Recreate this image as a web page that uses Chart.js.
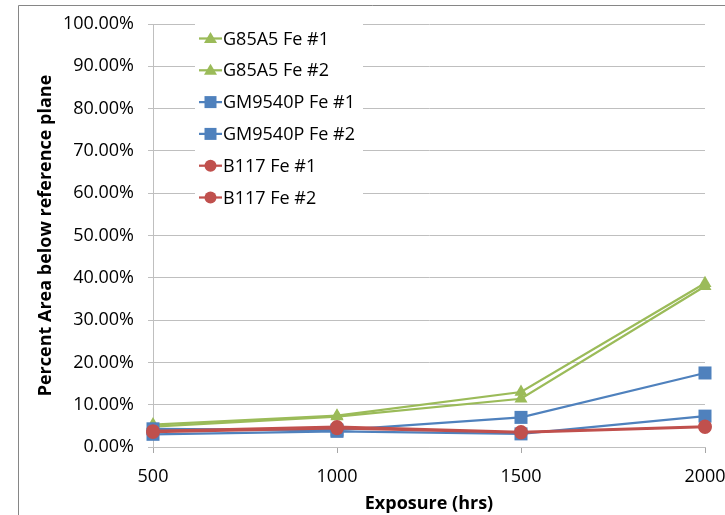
<!DOCTYPE html>
<html>
<head>
<meta charset="utf-8">
<script src="https://cdn.jsdelivr.net/npm/chart.js@4.4.1/dist/chart.umd.min.js"></script>
<style>
    body { margin: 0; background: #fff; }
    #wrap { width: 725px; height: 515px; }
</style>
</head>
<body>
<div id="wrap"><canvas id="areaChart" width="725" height="515"></canvas></div>
<script>
// Exposure times (hrs) and percent area below the reference plane
const exposureHrs = [500, 1000, 1500, 2000];

const g85a5Fe1 = [5.3, 7.4, 13.0, 38.7];
const g85a5Fe2 = [4.8, 7.2, 11.4, 38.0];
const gm9540pFe1 = [4.3, 4.0, 7.0, 17.5];
const gm9540pFe2 = [3.0, 3.7, 3.1, 7.3];
const b117Fe1 = [3.8, 4.8, 3.6, 4.9];
const b117Fe2 = [3.5, 4.4, 3.4, 4.7];

const xTicks = [500, 1000, 1500, 2000];
const yTicks = [0, 10, 20, 30, 40, 50, 60, 70, 80, 90, 100];

const GREEN = '#9bbb59';
const BLUE = '#4f81bd';
const RED = '#c0504d';
const FONT = '"Open Sans", "Liberation Sans", sans-serif';

function toPoints(values) {
    return values.map((v, i) => ({x: exposureHrs[i], y: v}));
}

function series(label, values, color, style, radius, order) {
    return {
        label: label,
        data: toPoints(values),
        borderColor: color,
        backgroundColor: color,
        borderWidth: 2.25,
        pointStyle: style,
        pointRadius: radius,
        pointHoverRadius: radius,
        pointBorderWidth: 0,
        pointBackgroundColor: color,
        tension: 0,
        clip: false,
        order: order
    };
}

// legend box sits inside the plot, over the upper gridlines
const insideLegend = {
    id: 'insideLegend',
    beforeDatasetsDraw(chart) {
        const ctx = chart.ctx;
        ctx.save();
        ctx.fillStyle = '#fff';
        ctx.fillRect(195, 19, 168, 204);
        chart.data.datasets.forEach((ds, i) => {
            const y = 38.5 + i * 31.8;
            ctx.strokeStyle = ds.borderColor;
            ctx.lineWidth = 2.25;
            ctx.beginPath();
            ctx.moveTo(199, y);
            ctx.lineTo(222, y);
            ctx.stroke();
            ctx.fillStyle = ds.borderColor;
            ctx.beginPath();
            if (ds.pointStyle === 'triangle') {
                ctx.moveTo(210.5, y - 6.5);
                ctx.lineTo(217, y + 4.5);
                ctx.lineTo(204, y + 4.5);
                ctx.closePath();
            } else if (ds.pointStyle === 'rect') {
                ctx.rect(204.5, y - 6, 12, 12);
            } else {
                ctx.arc(210.5, y, 6, 0, Math.PI * 2);
            }
            ctx.fill();
            ctx.fillStyle = '#000';
            ctx.font = '18px ' + FONT;
            ctx.textBaseline = 'middle';
            ctx.textAlign = 'left';
            ctx.fillText(ds.label, 223, y + 1);
        });
        ctx.restore();
    },
    afterDraw(chart) {
        // outer chart border
        const ctx = chart.ctx;
        ctx.save();
        ctx.strokeStyle = '#868686';
        ctx.lineWidth = 1;
        ctx.beginPath();
        ctx.moveTo(18.5, 520);
        ctx.lineTo(18.5, 5.5);
        ctx.lineTo(730, 5.5);
        ctx.stroke();
        ctx.restore();
    }
};

new Chart(document.getElementById('areaChart').getContext('2d'), {
    type: 'line',
    data: {
        datasets: [
            series('G85A5 Fe #1', g85a5Fe1, GREEN, 'triangle', 7.5, 6),
            series('G85A5 Fe #2', g85a5Fe2, GREEN, 'triangle', 7.5, 5),
            series('GM9540P Fe #1', gm9540pFe1, BLUE, 'rect', 9.2, 4),
            series('GM9540P Fe #2', gm9540pFe2, BLUE, 'rect', 9.2, 3),
            series('B117 Fe #1', b117Fe1, RED, 'circle', 6.8, 2),
            series('B117 Fe #2', b117Fe2, RED, 'circle', 6.8, 1)
        ]
    },
    options: {
        responsive: false,
        animation: false,
        layout: {padding: {top: 24, right: 20, bottom: 0, left: 0}},
        plugins: {
            legend: {display: false},
            tooltip: {enabled: false}
        },
        scales: {
            x: {
                type: 'linear',
                min: 500,
                max: 2000,
                afterFit: s => {
                    s.height = 68;
                    s.paddingLeft = 0;
                    s.paddingRight = 0;
                },
                afterBuildTicks: s => { s.ticks = xTicks.map(v => ({value: v})); },
                ticks: {
                    color: '#000',
                    padding: 13,
                    font: {family: FONT, size: 18},
                    callback: v => String(v)
                },
                grid: {
                    drawOnChartArea: false,
                    drawTicks: true,
                    tickLength: 6,
                    color: '#a6a6a6'
                },
                border: {display: true, color: '#bfbfbf', width: 1},
                title: {
                    display: true,
                    text: 'Exposure (hrs)',
                    color: '#000',
                    padding: {top: 0, bottom: 0},
                    font: {family: FONT, size: 18, weight: 'bold', lineHeight: 1.2}
                }
            },
            y: {
                min: 0,
                max: 100,
                afterFit: s => {
                    s.width = 153;
                    s.paddingTop = 0;
                    s.paddingBottom = 0;
                },
                afterBuildTicks: s => { s.ticks = yTicks.map(v => ({value: v})); },
                ticks: {
                    color: '#000',
                    padding: 14,
                    font: {family: FONT, size: 18},
                    callback: v => v.toFixed(2) + '%'
                },
                grid: {
                    color: '#bfbfbf',
                    lineWidth: 1,
                    drawTicks: true,
                    tickLength: 5
                },
                border: {display: true, color: '#bfbfbf', width: 1},
                title: {
                    display: true,
                    text: 'Percent Area below reference plane',
                    color: '#000',
                    padding: {top: 35, bottom: 0},
                    font: {family: FONT, size: 18, weight: 'bold', lineHeight: 1.2}
                }
            }
        }
    },
    plugins: [insideLegend]
});
</script>
</body>
</html>
